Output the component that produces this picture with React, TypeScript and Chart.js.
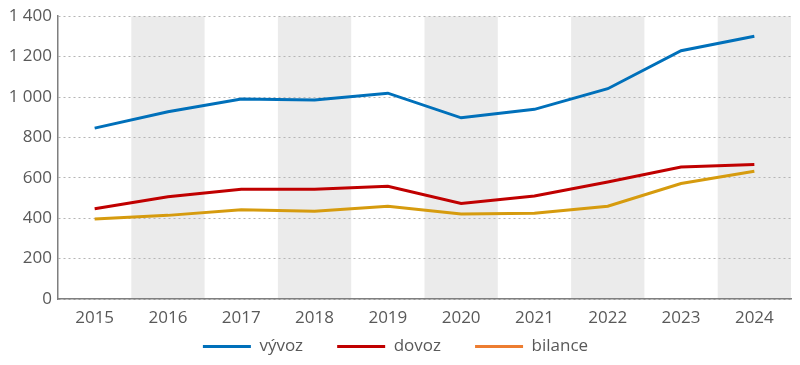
import React, { useEffect, useRef } from "react";
import { Chart, registerables } from "chart.js";

Chart.register(...registerables);

const years = ["2015", "2016", "2017", "2018", "2019", "2020", "2021", "2022", "2023", "2024"];
const vyvoz = [846, 927, 990, 985, 1019, 897, 939, 1041, 1229, 1301];
const dovoz = [447, 506, 543, 543, 558, 473, 510, 579, 653, 666];
const bilance = [396, 414, 442, 435, 459, 421, 424, 459, 572, 632];

const FONT = "'Open Sans', sans-serif";
const TEXT = "#595959";

const bandPlugin = {
  id: "bands",
  beforeDraw(chart: any) {
    const { ctx, chartArea, scales } = chart;
    const x = scales.x;
    const w = x.getPixelForValue(1) - x.getPixelForValue(0);
    ctx.save();
    ctx.fillStyle = "#EBEBEB";
    for (let i = 1; i < years.length; i += 2) {
      const c = x.getPixelForValue(i);
      ctx.fillRect(c - w / 2, chartArea.top, w, chartArea.bottom - chartArea.top);
    }
    ctx.restore();
  },
};

export default function App() {
  const ref = useRef<HTMLCanvasElement>(null);
  useEffect(() => {
    const chart = new Chart(ref.current!, {
      type: "line",
      data: {
        labels: years,
        datasets: [
          { label: "vývoz", data: vyvoz, borderColor: "#0070BA", backgroundColor: "#0070BA", borderWidth: 3, pointRadius: 0, tension: 0 },
          { label: "dovoz", data: dovoz, borderColor: "#C00000", backgroundColor: "#C00000", borderWidth: 3, pointRadius: 0, tension: 0 },
          { label: "bilance", data: bilance, borderColor: "#D69B0E", backgroundColor: "#ED7D31", borderWidth: 3, pointRadius: 0, tension: 0 },
        ],
      },
      options: {
        animation: false,
        responsive: false,
        maintainAspectRatio: false,
        layout: { padding: { top: 6, right: 9, left: 0, bottom: 0 } },
        plugins: {
          tooltip: { enabled: false },
          legend: {
            position: "bottom",
            labels: {
              color: TEXT,
              font: { family: FONT, size: 17 },
              boxWidth: 48,
              boxHeight: 3,
              padding: 12,
              generateLabels: (ch: any) =>
                ch.data.datasets.map((d: any, i: number) => ({
                  text: i < ch.data.datasets.length - 1 ? d.label + "     " : d.label,
                  fillStyle: d.backgroundColor,
                  strokeStyle: d.backgroundColor,
                  lineWidth: 0,
                  fontColor: TEXT,
                  datasetIndex: i,
                  hidden: false,
                })),
            },
          },
        },
        scales: {
          x: {
            offset: true,
            afterFit: (s: any) => { s.height = 27; },
            grid: { display: false, drawTicks: false },
            border: { display: true, color: "#7F7F7F", width: 1.5 },
            ticks: { color: TEXT, font: { family: FONT, size: 17 }, padding: 9, maxRotation: 0 },
          },
          y: {
            min: 0,
            max: 1400,
            afterFit: (s: any) => { s.width = 58; },
            grid: { color: "#B5B5B5", lineWidth: 1, drawTicks: false },
            border: { display: true, color: "#7F7F7F", width: 1.5, dash: [2, 3] } as any,
            ticks: {
              stepSize: 200,
              padding: 6,
              color: TEXT,
              font: { family: FONT, size: 17 },
              callback: (v: any) => String(v).replace(/\B(?=(\d{3})+(?!\d))/g, " "),
            },
          },
        },
      },
      plugins: [bandPlugin],
    } as any);
    return () => chart.destroy();
  }, []);
  return (
    <div style={{ position: "fixed", left: 0, top: 0, width: 800, height: 365 }}>
      <canvas ref={ref} width={800} height={365} style={{ width: 800, height: 365 }} />
    </div>
  );
}
